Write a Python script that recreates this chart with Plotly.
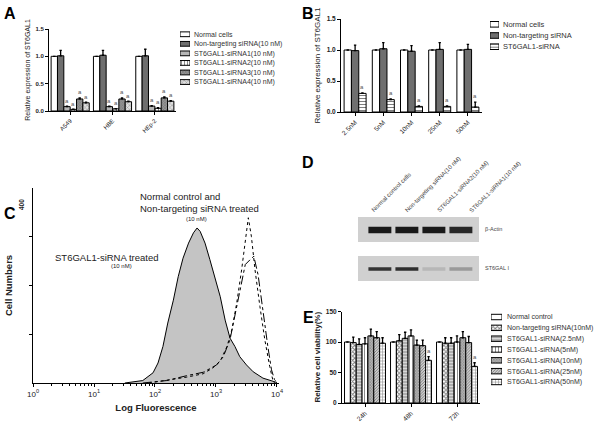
import plotly.graph_objects as go

W, H = 600, 423
FONT = "Arial, Liberation Sans, sans-serif"

# ---------------- Panel A data ----------------
a_cells = ["A549", "HBE", "HEp-2"]
a_series = ["Normal cells", "Non-targeting siRNA(10 nM)", "ST6GAL1-siRNA1(10 nM)",
            "ST6GAL1-siRNA2(10 nM)", "ST6GAL1-siRNA3(10 nM)", "ST6GAL1-siRNA4(10 nM)"]
a_normal = [1.0, 1.0, 1.0]
a_nontarget = [1.01, 1.02, 1.01]
a_si1 = [0.08, 0.08, 0.09]
a_si2 = [0.03, 0.04, 0.05]
a_si3 = [0.22, 0.22, 0.24]
a_si4 = [0.15, 0.17, 0.18]
a_normal_err = [0, 0, 0]
a_nontarget_err = [0.10, 0.09, 0.12]
a_si1_err = [0.01, 0.01, 0.01]
a_si2_err = [0.005, 0.005, 0.01]
a_si3_err = [0.02, 0.02, 0.02]
a_si4_err = [0.01, 0.01, 0.01]
a_mark = [False, False, True, True, True, True]

# ---------------- Panel B data ----------------
b_conc = ["2.5nM", "5nM", "10nM", "25nM", "50nM"]
b_series = ["Normal cells", "Non-targeting siRNA", "ST6GAL1-siRNA"]
b_normal = [1.0, 1.0, 1.0, 1.0, 1.0]
b_nontarget = [0.99, 1.02, 0.98, 1.01, 1.01]
b_sirna = [0.30, 0.20, 0.09, 0.09, 0.08]
b_normal_err = [0, 0, 0, 0, 0]
b_nontarget_err = [0.09, 0.10, 0.09, 0.11, 0.08]
b_sirna_err = [0.01, 0.01, 0.01, 0.01, 0.08]
b_mark = [False, False, True]

# ---------------- Panel C data (flow cytometry histograms) ----------------
c_sirna_x = [32, 63, 93, 112, 135, 162, 200, 240, 288, 355, 427, 490, 550, 661, 794,
             955, 1175, 1413, 1698, 2042, 2455, 3162, 4074, 5888, 10000]
c_sirna_y = [0, 5, 21, 41, 75, 123, 170, 218, 256, 287, 308, 318, 311, 287, 253,
             218, 177, 129, 92, 75, 54, 37, 23, 10, 1]
c_normal_x = [79, 155, 331, 617, 891, 1175, 1514, 1820, 2188, 2630, 3090, 3388, 3802,
              4365, 5248, 6310, 7586, 8511, 9120]
c_normal_y = [0, 5, 12, 19, 31, 45, 75, 109, 164, 232, 294, 339, 301, 232, 157, 89, 34, 7, 0]
c_nontarget_x = [63, 155, 331, 617, 1023, 1318, 1698, 2042, 2455, 3020, 3631, 4169,
                 4898, 5888, 7079, 8128, 9120, 10000]
c_nontarget_y = [0, 5, 15, 22, 37, 54, 89, 137, 192, 243, 253, 260, 222, 144, 75, 27, 7, 1]
c_xticks = [1, 10, 100, 1000, 10000]
c_xticktext = ["10<sup>0</sup>", "10<sup>1</sup>", "10<sup>2</sup>", "10<sup>3</sup>", "10<sup>4</sup>"]

# ---------------- Panel D data (western blot band intensities) ----------------
d_lanes = ["Normal control cells", "Non-targeting siRNA(10 nM)",
           "ST6GAL1-siRNA2(10 nM)", "ST6GAL1-siRNA1(10 nM)"]
d_actin = [1.0, 1.0, 1.0, 0.92]
d_st6 = [0.85, 0.88, 0.12, 0.28]
d_rows = ["β-Actin", "ST6GAL I"]

# ---------------- Panel E data ----------------
e_time = ["24h", "48h", "72h"]
e_series = ["Normal control", "Non-targeting siRNA(10nM)", "ST6GAL1-siRNA(2.5nM)",
            "ST6GAL1-siRNA(5nM)", "ST6GAL1-siRNA(10nM)", "ST6GAL1-siRNA(25nM)",
            "ST6GAL1-siRNA(50nM)"]
e_normal = [100, 100, 100]
e_nontarget = [99, 102, 98]
e_s25 = [96, 106, 98]
e_s5 = [97, 110, 100]
e_s10 = [110, 95, 107]
e_s25nm = [107, 94, 99]
e_s50 = [98, 70, 60]
e_normal_err = [0, 0, 0]
e_nontarget_err = [9, 10, 9]
e_s25_err = [9, 10, 9]
e_s5_err = [10, 10, 10]
e_s10_err = [11, 8, 10]
e_s25nm_err = [10, 9, 10]
e_s50_err = [9, 6, 6]
e_mark = [[False] * 3] * 6 + [[False, True, True]]

# ---------------- helpers ----------------
def xd(a, b):
    return [a / W, b / W]

def yd(top, bot):
    return [1 - bot / H, 1 - top / H]

def style(bg, shape="", fg="black", size=3, sol=0.3):
    return dict(bg=bg, shape=shape, fg=fg, size=size, sol=sol)

a_styles = [style("white"), style("#6f6f6f"), style("#d6d6d6", "-", "#555", 2, 0.5),
            style("white", "|", "black", 3, 0.3), style("#9a9a9a", "x", "#333", 2, 0.4),
            style("#e0e0e0", "x", "#444", 3, 0.3)]
b_styles = [style("white"), style("#6f6f6f"), style("white", "-", "black", 3, 0.35)]
e_styles = [style("white"), style("white", "x", "black", 3, 0.55),
            style("#d8d8d8", "-", "#333", 3, 0.35), style("white", "|", "black", 3, 0.3),
            style("#bdbdbd", "x", "#222", 2, 0.45), style("#cfcfcf", "/", "#222", 2, 0.45),
            style("white", "+", "black", 3, 0.3)]

fig = go.Figure()
annotations = []
shapes = []


def marker_of(st):
    return dict(color=st["bg"], line=dict(color="black", width=1),
                pattern=dict(shape=st["shape"], fgcolor=st["fg"], bgcolor=st["bg"],
                             size=st["size"], solidity=st["sol"], fillmode="overlay"))


def bar_panel(xa, ya, cats, values, errs, styles, names, groupw, marks, mark_pad):
    n = len(values)
    w = groupw / n
    for i, (vals, err, st, nm) in enumerate(zip(values, errs, styles, names)):
        off = -groupw / 2 + i * w
        fig.add_trace(go.Bar(
            x=cats, y=vals, name=nm, showlegend=False, xaxis=xa, yaxis=ya,
            width=w, offset=off, marker=marker_of(st),
            error_y=dict(type="data", symmetric=False, array=err, arrayminus=[0] * len(err),
                         color="black", thickness=1.3, width=1.2)))
        m = marks[i]
        for k, (v, e) in enumerate(zip(vals, err)):
            flag = m[k] if isinstance(m, list) else m
            if flag:
                annotations.append(dict(
                    x=k + off + w / 2, y=v + e + mark_pad, xref=xa, yref=ya, text="a",
                    showarrow=False, yanchor="bottom",
                    font=dict(size=6, color="#555", family=FONT)))


def legend_panel(xa, ya, names, styles):
    for nm, st in zip(names, styles):
        fig.add_trace(go.Bar(
            x=[1], y=[nm], orientation="h", base=0, width=0.5, offset=-0.25,
            xaxis=xa, yaxis=ya, showlegend=False, marker=marker_of(st)))


axis_common = dict(showgrid=False, zeroline=False, showline=True, linecolor="black",
                   linewidth=1, ticks="outside", tickcolor="black", ticklen=3, tickwidth=1,
                   automargin=False)
leg_axis = dict(type="category", autorange="reversed", side="right", showgrid=False,
                zeroline=False, showline=False, ticks="", automargin=False)

# ---------------- Panel A ----------------
bar_panel("x", "y", a_cells,
          [a_normal, a_nontarget, a_si1, a_si2, a_si3, a_si4],
          [a_normal_err, a_nontarget_err, a_si1_err, a_si2_err, a_si3_err, a_si4_err],
          a_styles, a_series, 0.9, a_mark, 0.01)
legend_panel("x2", "y2", a_series, a_styles)

# ---------------- Panel B ----------------
bar_panel("x3", "y3", b_conc, [b_normal, b_nontarget, b_sirna],
          [b_normal_err, b_nontarget_err, b_sirna_err], b_styles, b_series, 0.78,
          b_mark, 0.01)
legend_panel("x4", "y4", b_series, b_styles)

# ---------------- Panel C ----------------
fig.add_trace(go.Scatter(x=c_sirna_x, y=c_sirna_y, mode="lines", fill="tozeroy",
                         fillcolor="#c4c4c4", line=dict(color="black", width=1),
                         xaxis="x5", yaxis="y5", showlegend=False))
fig.add_trace(go.Scatter(x=c_normal_x, y=c_normal_y, mode="lines",
                         line=dict(color="black", width=1, dash="dot"),
                         xaxis="x5", yaxis="y5", showlegend=False))
fig.add_trace(go.Scatter(x=c_nontarget_x, y=c_nontarget_y, mode="lines",
                         line=dict(color="black", width=1, dash="dashdot"),
                         xaxis="x5", yaxis="y5", showlegend=False))

# ---------------- Panel D ----------------
D_X0, D_X1, D_PX0, D_PX1 = 0.19, 4.67, 358, 479
D_Y0, D_Y1, D_PYB, D_PYT = 0, 64, 281, 217

def d_px(xv):
    return D_PX0 + (xv - D_X0) / (D_X1 - D_X0) * (D_PX1 - D_PX0)

def d_py(yv):
    return D_PYB - (yv - D_Y0) / (D_Y1 - D_Y0) * (D_PYB - D_PYT)

d_pos = list(range(1, len(d_lanes) + 1))
row_center = [51, 12]
row_thick = [6.5, 3.5]
for vals, c, t in zip([d_actin, d_st6], row_center, row_thick):
    cols = ["rgb({0},{0},{0})".format(int(205 - 180 * v)) for v in vals]
    fig.add_trace(go.Bar(x=d_pos, y=[t] * len(vals), base=[c - t / 2] * len(vals),
                         width=0.85, offset=-0.425, marker=dict(color=cols, line=dict(width=0)),
                         xaxis="x6", yaxis="y6", showlegend=False))
for y0, y1 in [(39, 64), (0, 25)]:
    shapes.append(dict(type="rect", xref="x6", yref="y6", x0=D_X0, x1=D_X1, y0=y0, y1=y1,
                       fillcolor="#d0d0d0", line=dict(width=0), layer="below"))
label_shift = [-0.44, -0.2, -0.04, 0.17]
for p, lab, s in zip(d_pos, d_lanes, label_shift):
    annotations.append(dict(x=d_px(p + s) / W, y=1 - (d_py(D_Y1) - 1) / H, xref="paper",
                            yref="paper", text=lab, textangle=-45,
                            showarrow=False, xanchor="left", yanchor="bottom",
                            font=dict(size=6, color="#444", family=FONT)))
for lab, c in zip(d_rows, row_center):
    annotations.append(dict(x=(D_PX1 + 4) / W, y=1 - d_py(c + 1) / H, xref="paper",
                            yref="paper", text=lab, showarrow=False,
                            xanchor="left", yanchor="middle",
                            font=dict(size=5.5, color="#444", family=FONT)))

# ---------------- Panel E ----------------
bar_panel("x7", "y7", e_time,
          [e_normal, e_nontarget, e_s25, e_s5, e_s10, e_s25nm, e_s50],
          [e_normal_err, e_nontarget_err, e_s25_err, e_s5_err, e_s10_err, e_s25nm_err, e_s50_err],
          e_styles, e_series, 0.89, e_mark, 1)
legend_panel("x8", "y8", e_series, e_styles)

# ---------------- layout ----------------
layout = dict(
    template="none",
    width=W, height=H, margin=dict(l=0, r=0, t=0, b=0, pad=0),
    paper_bgcolor="white", plot_bgcolor="white", barmode="group",
    font=dict(family=FONT, color="#222"),
    # Panel A
    xaxis=dict(domain=xd(49, 176), anchor="y", type="category", range=[-0.5, 2.5],
               tickangle=-45, tickfont=dict(size=6, family=FONT), **axis_common),
    yaxis=dict(domain=yd(29, 111), anchor="x", range=[0, 1.5], tickvals=[0, 0.5, 1.0, 1.5],
               ticktext=["<b>0.0</b>", "<b>0.5</b>", "<b>1.0</b>", "<b>1.5</b>"],
               tickfont=dict(size=6, family=FONT),
               title=dict(text="Relative expression of ST6GAL1", font=dict(size=7, family=FONT),
                          standoff=4), **axis_common),
    xaxis2=dict(domain=xd(180, 190), anchor="y2", range=[0, 1], visible=False),
    yaxis2=dict(domain=yd(29.5, 86.8), anchor="x2", ticklabelstandoff=3,
                tickfont=dict(size=7, family=FONT, color="#333"), **leg_axis),
    # Panel B
    xaxis3=dict(domain=xd(341, 482), anchor="y3", type="category", range=[-0.5, 4.5],
                tickangle=-45, tickfont=dict(size=6.5, family=FONT), **axis_common),
    yaxis3=dict(domain=yd(19, 112), anchor="x3", range=[0, 1.5], tickvals=[0, 0.5, 1.0, 1.5],
                ticktext=["<b>0.0</b>", "<b>0.5</b>", "<b>1.0</b>", "<b>1.5</b>"],
                tickfont=dict(size=6.5, family=FONT),
                title=dict(text="Relative expression of ST6GAL1", font=dict(size=8, family=FONT),
                           standoff=4), **axis_common),
    xaxis4=dict(domain=xd(490, 499), anchor="y4", range=[0, 1], visible=False),
    yaxis4=dict(domain=yd(18.7, 52.3), anchor="x4", ticklabelstandoff=3,
                tickfont=dict(size=7.5, family=FONT, color="#333"), **leg_axis),
    # Panel C
    xaxis5=dict(domain=xd(33, 279), anchor="y5", type="log", range=[0, 4.033],
                tickvals=c_xticks, ticktext=c_xticktext, tickfont=dict(size=8, family=FONT),
                minor=dict(ticks="outside", ticklen=2, tickcolor="black", dtick="D1"),
                title=dict(text="<b>Log Fluorescence</b>", font=dict(size=9.5, family=FONT),
                           standoff=6), **axis_common),
    yaxis5=dict(domain=yd(188, 383), anchor="x5", range=[0, 400], tickvals=[100, 200, 300],
                showticklabels=False,
                title=dict(text="<b>Cell Numbers</b>", font=dict(size=9.5, family=FONT),
                           standoff=14), **axis_common),
    # Panel D
    xaxis6=dict(domain=xd(D_PX0, D_PX1), anchor="y6", range=[D_X0, D_X1], visible=False),
    yaxis6=dict(domain=yd(D_PYT, D_PYB), anchor="x6", range=[D_Y0, D_Y1], visible=False),
    # Panel E
    xaxis7=dict(domain=xd(342, 480), anchor="y7", type="category", range=[-0.5, 2.5],
                tickangle=-45, tickfont=dict(size=6.5, family=FONT), **axis_common),
    yaxis7=dict(domain=yd(311.5, 403), anchor="x7", range=[0, 150], tickvals=[0, 50, 100, 150],
                ticktext=["<b>0</b>", "<b>50</b>", "<b>100</b>", "<b>150</b>"],
                tickfont=dict(size=6.5, family=FONT),
                title=dict(text="<b>Relative cell viability(%)</b>", font=dict(size=8, family=FONT),
                           standoff=4), **axis_common),
    xaxis8=dict(domain=xd(491, 502), anchor="y8", range=[0, 1], visible=False),
    yaxis8=dict(domain=yd(311.6, 387.4), anchor="x8", ticklabelstandoff=4,
                tickfont=dict(size=7, family=FONT, color="#333"), **leg_axis),
)

# panel letters
for letter, x, y in [("A", 2, 3), ("B", 300, 3), ("C", 2, 203), ("D", 300, 152), ("E", 301, 307)]:
    annotations.append(dict(x=x / W, y=1 - y / H, xref="paper", yref="paper", text="<b>%s</b>" % letter,
                            showarrow=False, xanchor="left", yanchor="top",
                            font=dict(size=16, color="black", family=FONT)))

# panel C texts
c_texts = [("Normal control and", 138, 196, 9.5, "left"),
           ("Non-targeting siRNA treated", 138, 208, 9.5, "left"),
           ("(10 nM)", 196, 219, 6, "center"),
           ("ST6GAL1-siRNA treated", 53, 257, 9.5, "left"),
           ("(10 nM)", 121, 266, 6, "center")]
for t, x, y, s, anc in c_texts:
    annotations.append(dict(x=x / W, y=1 - y / H, xref="paper", yref="paper", text=t,
                            showarrow=False, xanchor=anc, yanchor="middle",
                            font=dict(size=s, color="#222", family=FONT)))
annotations.append(dict(x=22 / W, y=1 - 205 / H, xref="paper", yref="paper", text="<b>400</b>",
                        textangle=-90, showarrow=False, xanchor="center", yanchor="middle",
                        font=dict(size=6.5, color="#222", family=FONT)))

layout["annotations"] = annotations
layout["shapes"] = shapes
fig.update_layout(**layout)
fig.write_html("out.html", config={"displayModeBar": False},
               post_script="document.body.style.margin='0';")
